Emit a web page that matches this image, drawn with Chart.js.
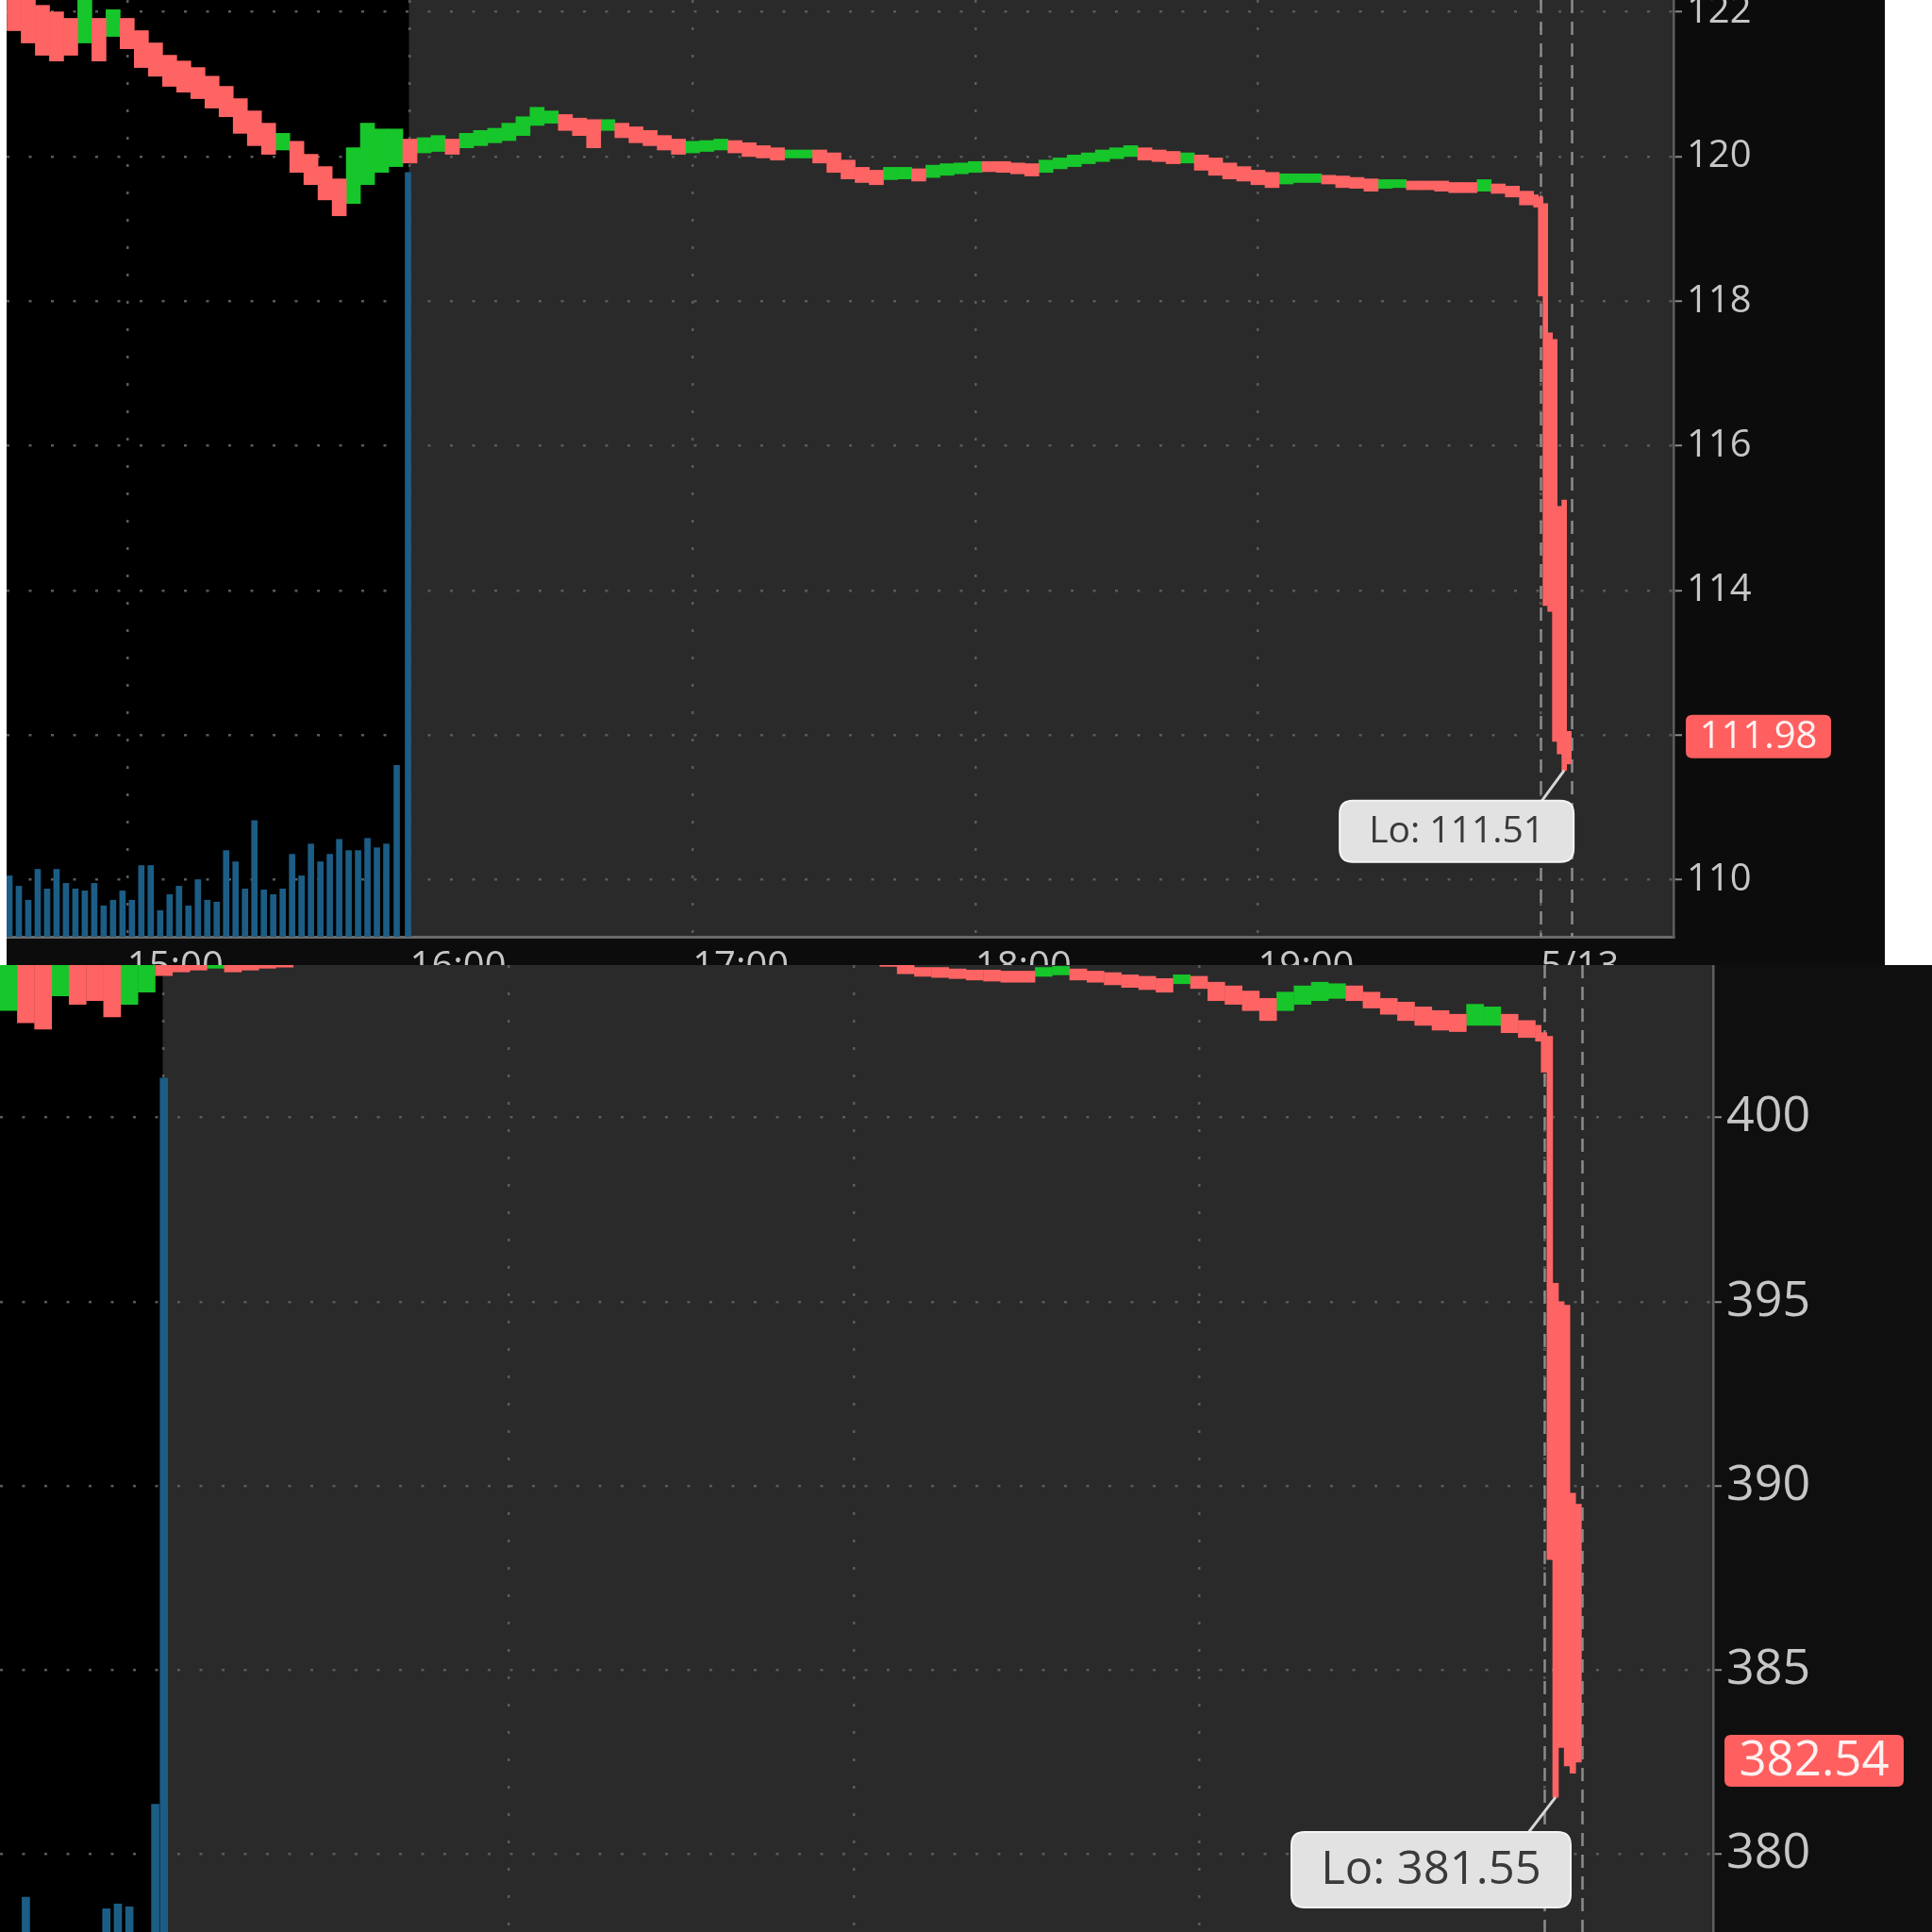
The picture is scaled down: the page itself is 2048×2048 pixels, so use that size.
<!DOCTYPE html>
<html>
<head>
<meta charset="utf-8">
<script src="https://cdn.jsdelivr.net/npm/chart.js@4.4.1/dist/chart.umd.min.js"></script>
<style>
    html, body { margin: 0; padding: 0; background: #ffffff; width: 2048px; height: 2048px; overflow: hidden; }
    .panel { position: absolute; overflow: hidden; }
    #topPanel { left: 7px; top: 0; width: 1991px; height: 1023px; background: #0c0c0c; }
    #bottomPanel { left: 0; top: 1023px; width: 2048px; height: 1025px; background: #0f0f0f; }
    canvas { display: block; }
</style>
</head>
<body>
<div id="topPanel" class="panel"><canvas id="topChart" width="1991" height="1070"></canvas></div>
<div id="bottomPanel" class="panel"><canvas id="bottomChart" width="2048" height="1025"></canvas></div>
<script>
// time axis is minutes after 15:00
const tickTimes = [0, 60, 120, 180, 240, 300];
const tickLabels = ["15:00", "16:00", "17:00", "18:00", "19:00", "5/13"];
const markerTimes = [300, 306.6]; // dashed lines
const sessionOpen = 59.8;

// ---- top panel (3 minute bars from -24) ----
const topStart = -24;
const topHigh = [122.30,122.25,122.09,122.00,121.91,122.17,121.91,122.03,121.91,121.74,121.57,121.40,121.32,121.23,121.11,120.97,120.80,120.63,120.46,120.32,
    120.21,120.03,119.86,119.69,120.12,120.46,120.38,120.38,120.24,120.26,120.29,120.24,120.32,120.36,120.39,120.46,120.55,120.68,120.63,120.58,
    120.53,120.51,120.51,120.46,120.41,120.36,120.29,120.24,120.21,120.22,120.24,120.22,120.19,120.15,120.12,120.09,120.09,120.09,120.05,119.95,
    119.85,119.81,119.85,119.85,119.83,119.88,119.90,119.91,119.93,119.93,119.93,119.91,119.90,119.95,119.98,120.02,120.05,120.09,120.12,120.15,
    120.12,120.09,120.07,120.05,120.02,119.98,119.91,119.86,119.81,119.78,119.76,119.76,119.76,119.74,119.73,119.71,119.69,119.68,119.68,119.66,
    119.66,119.66,119.64,119.64,119.68,119.62,119.59,119.52];
const topLow = [121.74,121.57,121.40,121.32,121.40,121.57,121.32,121.66,121.49,121.23,121.11,120.97,120.89,120.80,120.67,120.55,120.32,120.15,120.03,120.09,
    119.78,119.61,119.40,119.18,119.35,119.61,119.78,119.86,119.91,120.05,120.07,120.03,120.12,120.15,120.19,120.22,120.29,120.43,120.46,120.36,
    120.29,120.12,120.36,120.26,120.19,120.15,120.09,120.03,120.05,120.07,120.09,120.05,120.00,119.98,119.95,119.98,119.98,119.91,119.78,119.69,
    119.64,119.61,119.68,119.69,119.66,119.71,119.74,119.76,119.78,119.79,119.78,119.76,119.73,119.78,119.83,119.86,119.90,119.93,119.97,120.00,
    119.95,119.93,119.90,119.91,119.81,119.74,119.69,119.66,119.61,119.57,119.62,119.64,119.64,119.62,119.57,119.56,119.52,119.56,119.57,119.54,
    119.54,119.52,119.50,119.50,119.52,119.49,119.44,119.33];
// u = up bar (green), d = down bar (red)
const topDir = ["dddddududd", "dddddddddu", "dddduuuudu", "uduuuuuuud", "dduddddduu", "udddduuddd",
    "dduuduuuud", "ddduuuuuuu", "dddudddddd", "uuudddduud", "dddduddd"].join("");
// the sell-off, 1 minute bars
const topDropTimes = [299, 300, 301, 302, 303, 304, 305, 306];
const topDropHigh = [119.47, 119.44, 119.35, 117.56, 117.47, 115.16, 115.25, 112.05];
const topDropLow = [119.30, 118.07, 113.79, 113.71, 111.91, 111.74, 111.51, 111.60];
// volume (2 minute bars from -25, then the open)
const topVolStart = -25;
const topVol = [6.5,5.4,3.9,7.2,5.1,7.2,5.7,5.1,4.9,5.7,3.3,3.9,4.9,3.9,7.6,7.6,2.8,4.5,5.4,3.3,
    6.1,3.9,3.7,9.2,8.0,5.1,12.4,5.0,4.5,5.1,8.8,6.5,9.9,8.0,8.8,10.4,9.2,9.2,10.5,9.5,9.9];
const topOpenVolTimes = [57.2, 59.6];
const topOpenVol = [18.3, 81.6];
const topTicks = [110, 112, 114, 116, 118, 120, 122];

// ---- bottom panel (3 minute bars from 33) ----
const botStart = 33;
const botHigh = [404.60,404.50,404.60,404.70,404.60,404.50,404.60,404.80,404.90,404.80,404.70,404.80,404.90,404.80,404.70,404.80,404.90,405.20,405.60,405.70,
    405.60,405.50,405.50,405.50,405.40,405.30,405.20,405.10,405.00,405.00,405.00,405.00,405.00,404.90,404.90,404.85,404.80,404.80,404.80,404.75,
    404.70,404.65,404.60,404.65,404.70,404.65,404.70,404.75,404.75,404.80,404.60,404.40,404.25,404.07,404.07,404.03,404.00,404.00,403.97,403.97,
    404.07,404.10,404.03,403.97,403.93,403.87,403.83,403.77,403.87,403.83,403.67,403.57,403.43,403.23,403.40,403.57,403.67,403.63,403.57,403.40,
    403.23,403.13,403.00,402.90,402.80,403.07,403.00,402.80,402.63];
const botLow = [402.90,402.57,402.40,403.30,403.07,403.17,402.73,403.07,403.40,403.85,403.95,404.00,404.05,403.95,404.00,404.05,404.08,404.50,404.90,405.10,
    405.00,404.90,404.70,405.00,404.90,404.80,404.70,404.60,404.50,404.60,404.60,404.60,404.55,404.50,404.45,404.40,404.45,404.45,404.40,404.30,
    404.25,404.25,404.20,404.30,404.30,404.25,404.30,404.35,404.35,404.40,404.20,404.10,403.90,403.83,403.80,403.77,403.73,403.70,403.67,403.67,
    403.83,403.87,403.73,403.67,403.60,403.53,403.47,403.40,403.63,403.50,403.17,403.07,402.90,402.63,402.90,403.07,403.17,403.23,403.17,402.97,
    402.80,402.63,402.50,402.37,402.33,402.50,402.50,402.30,402.17];
const botDir = ["udduddduud", "ddudddduuu", "dddudddddu", "uudddduudd", "ddduuduuuu", "dddddddddd",
    "uuddddddud", "dddduuuudd", "ddddduudd"].join("");
const botDropTimes = [299, 300, 301, 302, 303, 304, 305, 306];
const botDropHigh = [402.50, 402.30, 402.20, 395.50, 395.00, 394.90, 389.80, 389.50];
const botDropLow = [402.07, 401.23, 388.00, 381.55, 382.90, 382.40, 382.20, 382.50];
const botVolTimes = [36, 50, 52, 54, 58.5, 60];
const botVol = [3.6, 2.4, 2.9, 2.6, 13.2, 88.3];
const botTicks = [380, 385, 390, 395, 400];

const RED = "#ff6464";
const GREEN = "#17c62a";
const BLUE = "#1c5d85";
const GRID = "#5a5a5a";
const TEXT = "#c6c6c6";

Chart.defaults.font.family = "'Open Sans', sans-serif";

function steps(start, step, n) {
    let out = [];
    for (let i = 0; i < n; i++) out.push(start + step * i);
    return out;
}

function bars(times, hi, lo, dirs, want) {
    let out = [];
    for (let i = 0; i < times.length; i++) {
        if (!want || dirs[i] === want) out.push({ x: times[i], y: [lo[i], hi[i]] });
    }
    return out;
}

function points(times, vals) {
    return times.map((t, i) => ({ x: t, y: vals[i] }));
}

function roundRect(ctx, x, y, w, h, r) {
    ctx.beginPath();
    ctx.moveTo(x + r, y);
    ctx.lineTo(x + w - r, y);
    ctx.quadraticCurveTo(x + w, y, x + w, y + r);
    ctx.lineTo(x + w, y + h - r);
    ctx.quadraticCurveTo(x + w, y + h, x + w - r, y + h);
    ctx.lineTo(x + r, y + h);
    ctx.quadraticCurveTo(x, y + h, x, y + h - r);
    ctx.lineTo(x, y + r);
    ctx.quadraticCurveTo(x, y, x + r, y);
    ctx.closePath();
}

// backgrounds, dashed markers, price badge and the Lo bubble
const panelPlugin = {
    id: "panel",
    beforeDraw(chart, args, p) {
        const { ctx, chartArea: a, scales } = chart;
        ctx.save();
        ctx.fillStyle = "#2a2a2a";
        ctx.fillRect(a.left, a.top, a.right - a.left, a.bottom - a.top);
        ctx.fillStyle = "#000000";
        ctx.fillRect(a.left, a.top, scales.x.getPixelForValue(sessionOpen) - a.left, a.bottom - a.top);
        ctx.restore();
    },
    beforeDatasetsDraw(chart) {
        const { ctx, chartArea: a, scales } = chart;
        ctx.save();
        ctx.strokeStyle = "#8c8c8c";
        ctx.lineWidth = 2.5;
        ctx.setLineDash([14, 9]);
        markerTimes.forEach(t => {
            const x = Math.round(scales.x.getPixelForValue(t)) + 0.5;
            ctx.beginPath();
            ctx.moveTo(x, a.top);
            ctx.lineTo(x, a.bottom);
            ctx.stroke();
        });
        ctx.restore();
    },
    afterDraw(chart, args, p) {
        const { ctx, chartArea: a, scales } = chart;
        ctx.save();
        // last price badge
        const by = scales.y.getPixelForValue(p.last);
        ctx.fillStyle = "#ff5f5f";
        roundRect(ctx, a.right + p.badgeGap, by - p.badgeH / 2, p.badgeW, p.badgeH, 7);
        ctx.fill();
        ctx.fillStyle = "#fff1f1";
        ctx.font = p.badgeFont + "px 'Open Sans', sans-serif";
        ctx.textAlign = "center";
        ctx.textBaseline = "middle";
        ctx.fillText(p.last.toFixed(2), a.right + p.badgeGap + p.badgeW / 2, by + 1);

        // Lo bubble with its pointer
        const px = scales.x.getPixelForValue(p.lowTime);
        const py = scales.y.getPixelForValue(p.low);
        const bx = px + p.bubbleDx - p.bubbleW;
        const bt = py + p.bubbleDy;
        ctx.strokeStyle = "#d6d6d6";
        ctx.lineWidth = 3;
        ctx.beginPath();
        ctx.moveTo(bx + p.bubbleW - p.tail, bt + 2);
        ctx.lineTo(px, py);
        ctx.stroke();
        ctx.fillStyle = "#e2e2e2";
        roundRect(ctx, bx, bt, p.bubbleW, p.bubbleH, 14);
        ctx.fill();
        ctx.strokeStyle = "#f4f4f4";
        ctx.lineWidth = 2;
        ctx.stroke();
        ctx.fillStyle = "#3a3a3a";
        ctx.font = p.bubbleFont + "px 'Open Sans', sans-serif";
        ctx.textAlign = "center";
        ctx.fillText("Lo: " + p.low.toFixed(2), bx + p.bubbleW / 2, bt + p.bubbleH / 2 + 1);
        ctx.restore();
    }
};

function drawPanel(id, p) {
    const ctx = document.getElementById(id).getContext("2d");
    const common = { grouped: false, borderWidth: 0, yAxisID: "y" };
    return new Chart(ctx, {
        type: "bar",
        data: {
            datasets: [
                Object.assign({ data: bars(p.dropTimes, p.dropHi, p.dropLo), backgroundColor: RED, barThickness: p.dropW }, common),
                Object.assign({ data: bars(p.times, p.hi, p.lo, p.dir, "d"), backgroundColor: RED, barThickness: p.barW }, common),
                Object.assign({ data: bars(p.times, p.hi, p.lo, p.dir, "u"), backgroundColor: GREEN, barThickness: p.barW }, common),
                { data: p.volume, backgroundColor: BLUE, barThickness: p.volW, grouped: false, borderWidth: 0, yAxisID: "vol" }
            ]
        },
        options: {
            responsive: false,
            animation: false,
            devicePixelRatio: 1,
            layout: { padding: 0, autoPadding: false },
            plugins: { legend: { display: false }, tooltip: { enabled: false }, panel: p },
            scales: {
                x: {
                    type: "linear",
                    min: p.xMin,
                    max: p.xMax,
                    offset: false,
                    afterBuildTicks: s => { s.ticks = tickTimes.map(v => ({ value: v })); },
                    afterFit: s => { s.height = p.xAxisH; s.paddingLeft = 0; s.paddingRight = 0; },
                    grid: { color: GRID, lineWidth: 2.5, offset: false, drawTicks: false },
                    border: { display: p.showX, color: "#6a6a6a", width: 3, dash: [3, 26] },
                    ticks: {
                        display: p.showX, align: "start", padding: 9, color: TEXT, maxRotation: 0, autoSkip: false,
                        font: { size: p.fontSize },
                        callback: v => tickLabels[tickTimes.indexOf(v)]
                    }
                },
                y: {
                    position: "right",
                    min: p.yMin,
                    max: p.yMax,
                    afterBuildTicks: s => { s.ticks = p.yTicks.map(v => ({ value: v })); },
                    afterFit: s => { s.width = p.yAxisW; s.paddingTop = 0; s.paddingBottom = 0; },
                    grid: { color: GRID, lineWidth: 2.5, drawTicks: true, tickLength: 9, tickColor: "#8a8a8a", tickWidth: 2 },
                    border: { color: "#5e5e5e", width: 2.5, dash: [3, 20.5] },
                    ticks: { padding: 5, color: TEXT, font: { size: p.fontSize }, callback: v => String(v) }
                },
                vol: { display: false, min: 0, max: 100 }
            }
        },
        plugins: [panelPlugin]
    });
}

drawPanel("topChart", {
    times: steps(topStart, 3, topHigh.length), hi: topHigh, lo: topLow, dir: topDir,
    dropTimes: topDropTimes, dropHi: topDropHigh, dropLo: topDropLow,
    volume: points(steps(topVolStart, 2, topVol.length), topVol).concat(points(topOpenVolTimes, topOpenVol)),
    xMin: -25.6, xMax: 328.2, yMin: 109.21, yMax: 122.164, yTicks: topTicks,
    barW: 15, dropW: 5, volW: 6, xAxisH: 77, yAxisW: 224, fontSize: 40, showX: true,
    last: 111.98, lowTime: 305, low: 111.51,
    badgeGap: 13, badgeW: 154, badgeH: 46, badgeFont: 40,
    bubbleDx: 10, bubbleDy: 32, bubbleW: 248, bubbleH: 65, bubbleFont: 39, tail: 35
});

drawPanel("bottomChart", {
    times: steps(botStart, 3, botHigh.length), hi: botHigh, lo: botLow, dir: botDir,
    dropTimes: botDropTimes, dropHi: botDropHigh, dropLo: botDropLow,
    volume: points(botVolTimes, botVol),
    xMin: 31.5, xMax: 329.4, yMin: 377.89, yMax: 404.136, yTicks: botTicks,
    barW: 18, dropW: 6, volW: 8, xAxisH: 0, yAxisW: 232, fontSize: 52, showX: false,
    last: 382.54, lowTime: 302, low: 381.55,
    badgeGap: 12, badgeW: 190, badgeH: 55, badgeFont: 51,
    bubbleDx: 16, bubbleDy: 37, bubbleW: 296, bubbleH: 80, bubbleFont: 49, tail: 46
});
</script>
</body>
</html>
